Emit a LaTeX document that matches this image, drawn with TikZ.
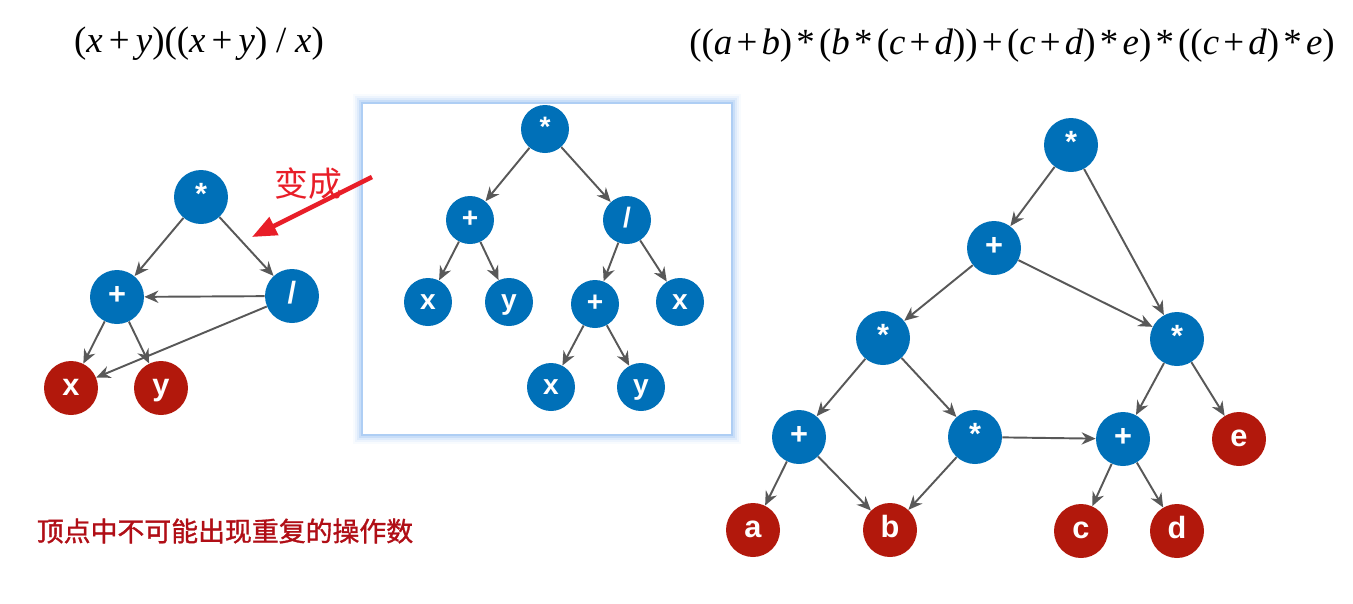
\documentclass[tikz,border=0pt]{standalone}
\usepackage{fontspec}
\newfontfamily\cjk{Noto Sans CJK SC}
\newfontfamily\cjkheavy[FakeBold=1.2]{Noto Sans CJK SC}
\newfontfamily\formfont{Liberation Serif}
\newfontfamily\labelfont{Liberation Sans}
\usetikzlibrary{
    arrows.meta,
    positioning
}
\definecolor{opblue}{RGB}{0,112,184}
\definecolor{valred}{RGB}{178,24,12}
\definecolor{edgegray}{RGB}{88,88,88}
\definecolor{markred}{RGB}{232,30,40}
\definecolor{notered}{RGB}{176,14,22}
\definecolor{glowblue}{RGB}{140,185,240}
\tikzset{
    vertex/.style={circle, inner sep=0pt, minimum size=1.08cm, text=white,
        text height=9pt, text depth=0pt,
        font=\labelfont\bfseries\fontsize{17.5}{17.5}\selectfont},
    opnode/.style={vertex, fill=opblue},
    valnode/.style={vertex, fill=valred},
    smallop/.style={opnode, minimum size=0.96cm, text height=8.2pt,
        font=\labelfont\bfseries\fontsize{16}{16}\selectfont},
    edge/.style={-{Stealth[length=8pt, width=7pt]}, edgegray, line width=1.1pt},
    formula/.style={font=\formfont\fontsize{21}{21}\selectfont},
    markarrow/.style={-{Triangle[length=14pt, width=11pt]}, markred, line width=2.6pt},
    note/.style={font=\cjk\fontsize{15.3}{15.3}\selectfont}
}
\newcommand{\iv}[1]{\textit{#1}}
\newcommand{\gap}{\hspace{2.4pt}}
\newcommand{\wgap}{\hspace{5pt}}

\begin{document}
\begin{tikzpicture}[x=0.02cm, y=-0.02cm]
    \useasboundingbox (0,0) rectangle (1353,603);
    % formulas
    \node[formula] (leftexpr) at (199,44) {(\iv{x}\,+\,\iv{y})((\iv{x}\,+\,\iv{y})\wgap/\wgap\iv{x})};
    \node[formula] (rightexpr) at (1012,46) {((\iv{a}\gap+\gap\iv{b})\gap*\gap(\iv{b}\gap*\gap(\iv{c}\gap+\gap\iv{d}))\gap+\gap(\iv{c}\gap+\gap\iv{d})\gap*\gap\iv{e})\gap*\gap((\iv{c}\gap+\gap\iv{d})\gap*\gap\iv{e})};

    % left dag
    \node[opnode] (lmul) at (201,197) {*};
    \node[opnode] (lplus) at (117,297) {+};
    \node[opnode] (ldiv) at (292,296) {/};
    \node[valnode] (lx) at (71,388) {x};
    \node[valnode] (ly) at (161,388) {y};
    \draw[edge] (lmul) -- (lplus);
    \draw[edge] (lmul) -- (ldiv);
    \draw[edge] (ldiv) -- (lplus);
    \draw[edge] (ldiv) -- (lx);
    \draw[edge] (lplus) -- (lx);
    \draw[edge] (lplus) -- (ly);

    % middle tree in its glowing frame
    \foreach \d/\o in {10/0.06, 8/0.1, 6/0.16, 4/0.25, 2/0.45}
        \fill[glowblue, opacity=\o] (363-\d,104-\d) rectangle (731+\d,434+\d);
    \fill[white] (363,104) rectangle (731,434);
    \node[smallop] (mmul) at (545,129) {*};
    \node[smallop] (mplus) at (470,220) {+};
    \node[smallop] (mdiv) at (627,220) {/};
    \node[smallop] (mx) at (428,302) {x};
    \node[smallop] (my) at (509,302) {y};
    \node[smallop] (mplusb) at (595,304) {+};
    \node[smallop] (mxb) at (680,302) {x};
    \node[smallop] (mxc) at (551,387) {x};
    \node[smallop] (myb) at (641,387) {y};
    \draw[edge] (mmul) -- (mplus);
    \draw[edge] (mmul) -- (mdiv);
    \draw[edge] (mplus) -- (mx);
    \draw[edge] (mplus) -- (my);
    \draw[edge] (mdiv) -- (mplusb);
    \draw[edge] (mdiv) -- (mxb);
    \draw[edge] (mplusb) -- (mxc);
    \draw[edge] (mplusb) -- (myb);

    % red hint
    \coordinate (hinttail) at (372,177);
    \coordinate (hinthead) at (252,237);
    \draw[markarrow] (hinttail) -- (hinthead);
    \node[note, font=\cjk\fontsize{19.3}{19.3}\selectfont, text=markred] (hint) at (308,184) {变成};

    % right dag
    \node[opnode] (rmul) at (1071,145) {*};
    \node[opnode] (rplus) at (994,248) {+};
    \node[opnode] (rmulb) at (883,338) {*};
    \node[opnode] (rmulc) at (1177,339) {*};
    \node[opnode] (rplusb) at (799,437) {+};
    \node[opnode] (rmuld) at (975,437) {*};
    \node[opnode] (rplusc) at (1123,439) {+};
    \node[valnode] (re) at (1239,439) {e};
    \node[valnode] (ra) at (753,530) {a};
    \node[valnode] (rb) at (890,530) {b};
    \node[valnode] (rc) at (1081,531) {c};
    \node[valnode] (rd) at (1177,531) {d};
    \draw[edge] (rmul) -- (rplus);
    \draw[edge] (rmul) -- (rmulc);
    \draw[edge] (rplus) -- (rmulb);
    \draw[edge] (rplus) -- (rmulc);
    \draw[edge] (rmulb) -- (rplusb);
    \draw[edge] (rmulb) -- (rmuld);
    \draw[edge] (rplusb) -- (ra);
    \draw[edge] (rplusb) -- (rb);
    \draw[edge] (rmuld) -- (rb);
    \draw[edge] (rmuld) -- (rplusc);
    \draw[edge] (rmulc) -- (rplusc);
    \draw[edge] (rmulc) -- (re);
    \draw[edge] (rplusc) -- (rc);
    \draw[edge] (rplusc) -- (rd);

    \node[note, font=\cjkheavy\fontsize{15.3}{15.3}\selectfont, text=notered] (remark) at (225,531) {顶点中不可能出现重复的操作数};
\end{tikzpicture}
\end{document}
